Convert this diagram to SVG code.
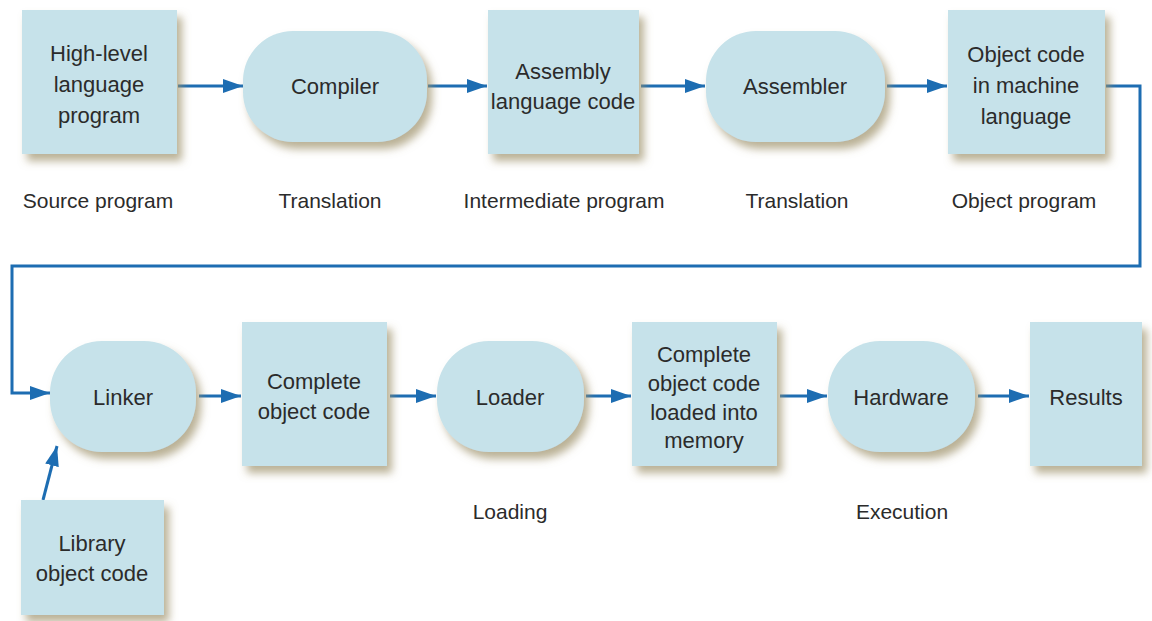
<svg xmlns="http://www.w3.org/2000/svg" width="1152" height="621" viewBox="0 0 1152 621">
  <defs>
    <filter id="shadow" x="-10%" y="-10%" width="130%" height="135%">
      <feDropShadow dx="5" dy="7" stdDeviation="4" flood-color="#9c9068" flood-opacity="0.7"/>
    </filter>
    <marker id="head" viewBox="0 0 20 14" refX="20" refY="7" markerWidth="20" markerHeight="14" markerUnits="userSpaceOnUse" orient="auto">
      <path d="M0,0 L20,7 L0,14 z" fill="#1d6db2"/>
    </marker>
  </defs>
  <style>
    .box { fill: #c6e2ea; filter: url(#shadow); }
    .t { font-family: "Liberation Sans", Arial, sans-serif; font-size: 22px; fill: #2b2b2b; text-anchor: middle; }
    .lbl { font-family: "Liberation Sans", Arial, sans-serif; font-size: 21px; fill: #2b2b2b; text-anchor: middle; }
    .conn { fill: none; stroke: #1d6db2; stroke-width: 3; marker-end: url(#head); }
  </style>
  <rect width="1152" height="621" fill="#ffffff"/>

  <!-- connectors -->
  <g id="connectors">
    <path class="conn" d="M178,86 L243,86"/>
    <path class="conn" d="M428,86 L487,86"/>
    <path class="conn" d="M641,86 L705,86"/>
    <path class="conn" d="M887,86 L947,86"/>
    <path class="conn" d="M1106,86 L1140,86 L1140,266 L12,266 L12,393 L50,393"/>
    <path class="conn" d="M43,500 L57,446"/>
    <path class="conn" d="M199,396 L241,396"/>
    <path class="conn" d="M390,396 L436,396"/>
    <path class="conn" d="M586,396 L631,396"/>
    <path class="conn" d="M780,396 L827,396"/>
    <path class="conn" d="M978,396 L1029,396"/>
  </g>

  <!-- top row -->
  <g id="high-level">
    <rect class="box" x="22" y="10" width="155" height="144"/>
    <text class="t" x="99" y="61">High-level</text>
    <text class="t" x="99" y="92">language</text>
    <text class="t" x="99" y="123">program</text>
  </g>
  <g id="compiler">
    <rect class="box" x="243" y="31" width="184" height="111" rx="50" ry="50"/>
    <text class="t" x="335" y="94">Compiler</text>
  </g>
  <g id="assembly">
    <rect class="box" x="488" y="10" width="151" height="144"/>
    <text class="t" x="563" y="79">Assembly</text>
    <text class="t" x="563" y="109">language code</text>
  </g>
  <g id="assembler">
    <rect class="box" x="706" y="31" width="179" height="111" rx="50" ry="50"/>
    <text class="t" x="795" y="94">Assembler</text>
  </g>
  <g id="object-code">
    <rect class="box" x="948" y="10" width="157" height="144"/>
    <text class="t" x="1026" y="62">Object code</text>
    <text class="t" x="1026" y="93">in machine</text>
    <text class="t" x="1026" y="124">language</text>
  </g>

  <!-- captions under the top row -->
  <g id="captions-top">
    <text class="lbl" x="98" y="208">Source program</text>
    <text class="lbl" x="330" y="208">Translation</text>
    <text class="lbl" x="564" y="208">Intermediate program</text>
    <text class="lbl" x="797" y="208">Translation</text>
    <text class="lbl" x="1024" y="208">Object program</text>
  </g>

  <!-- bottom row -->
  <g id="linker">
    <rect class="box" x="50" y="341" width="146" height="111" rx="52" ry="52"/>
    <text class="t" x="123" y="405">Linker</text>
  </g>
  <g id="complete-object-code">
    <rect class="box" x="242" y="322" width="145" height="144"/>
    <text class="t" x="314" y="389">Complete</text>
    <text class="t" x="314" y="419">object code</text>
  </g>
  <g id="loader">
    <rect class="box" x="437" y="341" width="147" height="111" rx="52" ry="52"/>
    <text class="t" x="510" y="405">Loader</text>
  </g>
  <g id="loaded-into-memory">
    <rect class="box" x="632" y="322" width="145" height="144"/>
    <text class="t" x="704" y="362">Complete</text>
    <text class="t" x="704" y="391">object code</text>
    <text class="t" x="704" y="420">loaded into</text>
    <text class="t" x="704" y="448">memory</text>
  </g>
  <g id="hardware">
    <rect class="box" x="828" y="341" width="147" height="111" rx="52" ry="52"/>
    <text class="t" x="901" y="405">Hardware</text>
  </g>
  <g id="results">
    <rect class="box" x="1030" y="322" width="112" height="144"/>
    <text class="t" x="1086" y="405">Results</text>
  </g>
  <g id="library">
    <rect class="box" x="21" y="500" width="143" height="115"/>
    <text class="t" x="92" y="551">Library</text>
    <text class="t" x="92" y="581">object code</text>
  </g>

  <!-- captions under the bottom row -->
  <g id="captions-bottom">
    <text class="lbl" x="510" y="519">Loading</text>
    <text class="lbl" x="902" y="519">Execution</text>
  </g>
</svg>
